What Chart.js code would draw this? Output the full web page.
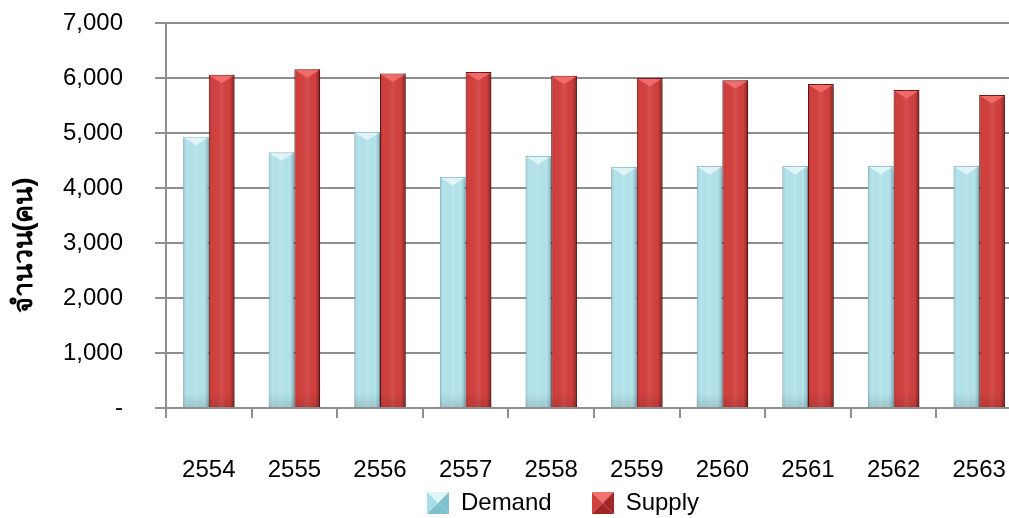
<!DOCTYPE html>
<html>
<head>
<meta charset="utf-8">
<script src="https://cdn.jsdelivr.net/npm/chart.js@4/dist/chart.umd.min.js"></script>
<style>
  html, body { margin: 0; padding: 0; background: #fff; overflow: hidden; width: 1009px; height: 518px; }
  .chart-box { width: 1022px; height: 518px; }
</style>
</head>
<body>
<div class="chart-box"><canvas id="myChart"></canvas></div>
<script>
const years = ["2554", "2555", "2556", "2557", "2558", "2559", "2560", "2561", "2562", "2563"];
const demand = [4930, 4650, 5020, 4200, 4580, 4380, 4400, 4400, 4400, 4400];
const supply = [6060, 6160, 6080, 6110, 6040, 6000, 5960, 5890, 5780, 5690];
const yMax = 7000;
const yStep = 1000;
const yTitle = "จำนวน(คน)";

const fontFamily = '"Liberation Sans", Arial, sans-serif';
const gridColor = "#8f8f8f";

// small pyramid-looking square for the legend
const makeLegendBox = (face, light, dark) => {
  const c = document.createElement("canvas");
  c.width = 22;
  c.height = 22;
  const g = c.getContext("2d");
  const tri = (pts, col) => {
    g.beginPath();
    g.moveTo(pts[0], pts[1]);
    g.lineTo(pts[2], pts[3]);
    g.lineTo(11, 11);
    g.closePath();
    g.fillStyle = col;
    g.fill();
  };
  tri([0, 0, 22, 0], light);
  tri([0, 0, 0, 22], face);
  tri([22, 0, 22, 22], dark);
  tri([0, 22, 22, 22], dark);
  return c;
};

// soft shadow under the bars
const shadowPlugin = {
  id: "barShadow",
  beforeDatasetsDraw(chart) {
    const ctx = chart.ctx;
    ctx.save();
    ctx.shadowColor = "rgba(0,0,0,0.28)";
    ctx.shadowBlur = 5;
    ctx.shadowOffsetX = 2;
    ctx.shadowOffsetY = 2;
  },
  afterDatasetsDraw(chart) {
    chart.ctx.restore();
  }
};

// adds the bevelled top and darker sides on each bar
const bevelPlugin = {
  id: "bevel",
  afterDatasetsDraw(chart) {
    const ctx = chart.ctx;
    chart.data.datasets.forEach((ds, i) => {
      const meta = chart.getDatasetMeta(i);
      meta.data.forEach(bar => {
        const { x, y, base, width } = bar.getProps(["x", "y", "base", "width"], true);
        const left = x - width / 2;
        const right = x + width / 2;
        const g = ctx.createLinearGradient(left, 0, right, 0);
        g.addColorStop(0, "rgba(0,0,0,0.10)");
        g.addColorStop(0.15, "rgba(0,0,0,0)");
        g.addColorStop(0.5, "rgba(255,255,255,0.08)");
        g.addColorStop(0.82, "rgba(0,0,0,0)");
        g.addColorStop(1, ds.sideShade);
        ctx.save();
        ctx.fillStyle = g;
        ctx.fillRect(left, y, width, base - y);
        const gb = ctx.createLinearGradient(0, base - 14, 0, base);
        gb.addColorStop(0, "rgba(0,0,0,0)");
        gb.addColorStop(1, "rgba(0,0,0,0.12)");
        ctx.fillStyle = gb;
        ctx.fillRect(left, base - 14, width, 14);
        ctx.beginPath();
        ctx.moveTo(left + 1, y + 1);
        ctx.lineTo(right - 1, y + 1);
        ctx.lineTo(x, y + width * 0.33);
        ctx.closePath();
        ctx.fillStyle = ds.bevelColor;
        ctx.fill();
        ctx.restore();
      });
    });
  }
};

// legend and x labels placed like the original
const placeBoxes = {
  id: "placeBoxes",
  afterLayout(chart) {
    chart.legend.left += 52;
    chart.legend.right += 52;
    chart.legend.top += 7;
    chart.legend.bottom += 7;
    chart.scales.x.bottom = 490; // room for the tick labels
  }
};

const ctx = document.getElementById("myChart").getContext("2d");
const myChart = new Chart(ctx, {
  type: "bar",
  data: {
    labels: years,
    datasets: [
      {
        label: "Demand",
        data: demand,
        backgroundColor: "#b4e4ec",
        borderColor: "#9fd2dc",
        borderWidth: 1,
        bevelColor: "rgba(255,255,255,0.6)",
        sideShade: "rgba(40,90,100,0.25)",
        pointStyle: makeLegendBox("#a9dde7", "#dff5f8", "#7fc0cc"),
        barPercentage: 1,
        categoryPercentage: 0.6,
      },
      {
        label: "Supply",
        data: supply,
        backgroundColor: "#d2403e",
        borderColor: "#6e1818",
        borderWidth: 1,
        bevelColor: "#f26b6b",
        sideShade: "rgba(60,0,0,0.45)",
        pointStyle: makeLegendBox("#d2403e", "#f27070", "#a02626"),
        barPercentage: 1,
        categoryPercentage: 0.6,
      },
    ],
  },
  options: {
    responsive: true,
    maintainAspectRatio: false,
    animation: false,
    layout: { padding: { top: 23, left: 0, right: 0, bottom: 0 } },
    plugins: {
      tooltip: { enabled: false },
      legend: {
        position: "bottom",
        labels: {
          usePointStyle: true,
          boxWidth: 22,
          boxHeight: 22,
          padding: 40,
          color: "#000",
          font: { family: fontFamily, size: 24 },
        },
      },
    },
    scales: {
      x: {
        afterFit: (scale) => {
          scale.height = 36;
          scale.paddingLeft = 0;
          scale.paddingRight = 0;
        },
        grid: {
          drawOnChartArea: false,
          drawTicks: true,
          tickLength: 10,
          color: gridColor,
          lineWidth: 2,
        },
        border: { color: gridColor, width: 2 },
        ticks: {
          padding: 38,
          color: "#000",
          font: { family: fontFamily, size: 24 },
        },
      },
      y: {
        min: 0,
        max: yMax,
        afterFit: (scale) => {
          scale.width = 166;
          scale.paddingTop = 0;
          scale.paddingBottom = 0;
        },
        grid: {
          color: gridColor,
          lineWidth: 2,
          tickLength: 11,
        },
        border: { color: gridColor, width: 2 },
        ticks: {
          stepSize: yStep,
          padding: 32,
          color: "#000",
          font: { family: fontFamily, size: 24 },
          callback: (v) => (v === 0 ? "-" : v.toLocaleString("en-US")),
        },
        title: {
          display: true,
          text: yTitle + "\u00a0".repeat(8),
          color: "#000",
          padding: { top: 8, bottom: 0 },
          font: { family: fontFamily, size: 27, weight: "bold" },
        },
      },
    },
  },
  plugins: [shadowPlugin, bevelPlugin, placeBoxes],
});
</script>
</body>
</html>
